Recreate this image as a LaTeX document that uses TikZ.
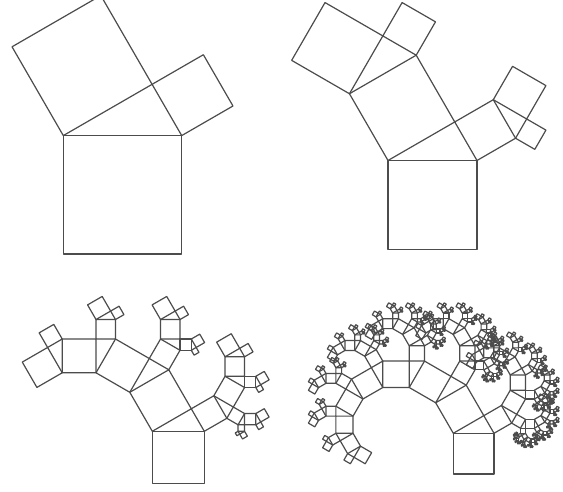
\documentclass[tikz,border=0pt]{standalone}
\usepackage{tikz}
\tikzset{sq/.style={draw=black!70,line width=1.2pt,line join=round}}
\newcommand\ptsq[5]{%
 \begingroup
 \pgfmathsetmacro\dx{#3-#1}\pgfmathsetmacro\dy{#4-#2}%
 \pgfmathsetmacro\Dx{#1-\dy}\pgfmathsetmacro\Dy{#2+\dx}%
 \pgfmathsetmacro\Cx{#3-\dy}\pgfmathsetmacro\Cy{#4+\dx}%
 \draw[sq] (#1pt,#2pt) -- (#3pt,#4pt) -- (\Cx pt,\Cy pt) -- (\Dx pt,\Dy pt) -- cycle;%
 \ifnum#5>0
   \pgfmathsetmacro\Ex{\Dx+0.75*\dx-0.4330127*\dy}%
   \pgfmathsetmacro\Ey{\Dy+0.4330127*\dx+0.75*\dy}%
   \pgfmathtruncatemacro\nd{#5-1}%
   \edef\next{\noexpand\ptsq{\Dx}{\Dy}{\Ex}{\Ey}{\nd}\noexpand\ptsq{\Ex}{\Ey}{\Cx}{\Cy}{\nd}}%
   \next
 \fi
 \endgroup}
\begin{document}
\begin{tikzpicture}[x=1pt,y=1pt]
\fill[white] (0,0) rectangle (563,492);
\useasboundingbox (0,0) rectangle (563,492);
\ptsq{63.3}{238}{181.7}{238}{1}
\ptsq{388}{242.5}{477}{242.5}{2}
\ptsq{152.3}{8.7}{204.3}{8.7}{4}
\ptsq{453.3}{18}{494}{18}{8}
\end{tikzpicture}
\end{document}
